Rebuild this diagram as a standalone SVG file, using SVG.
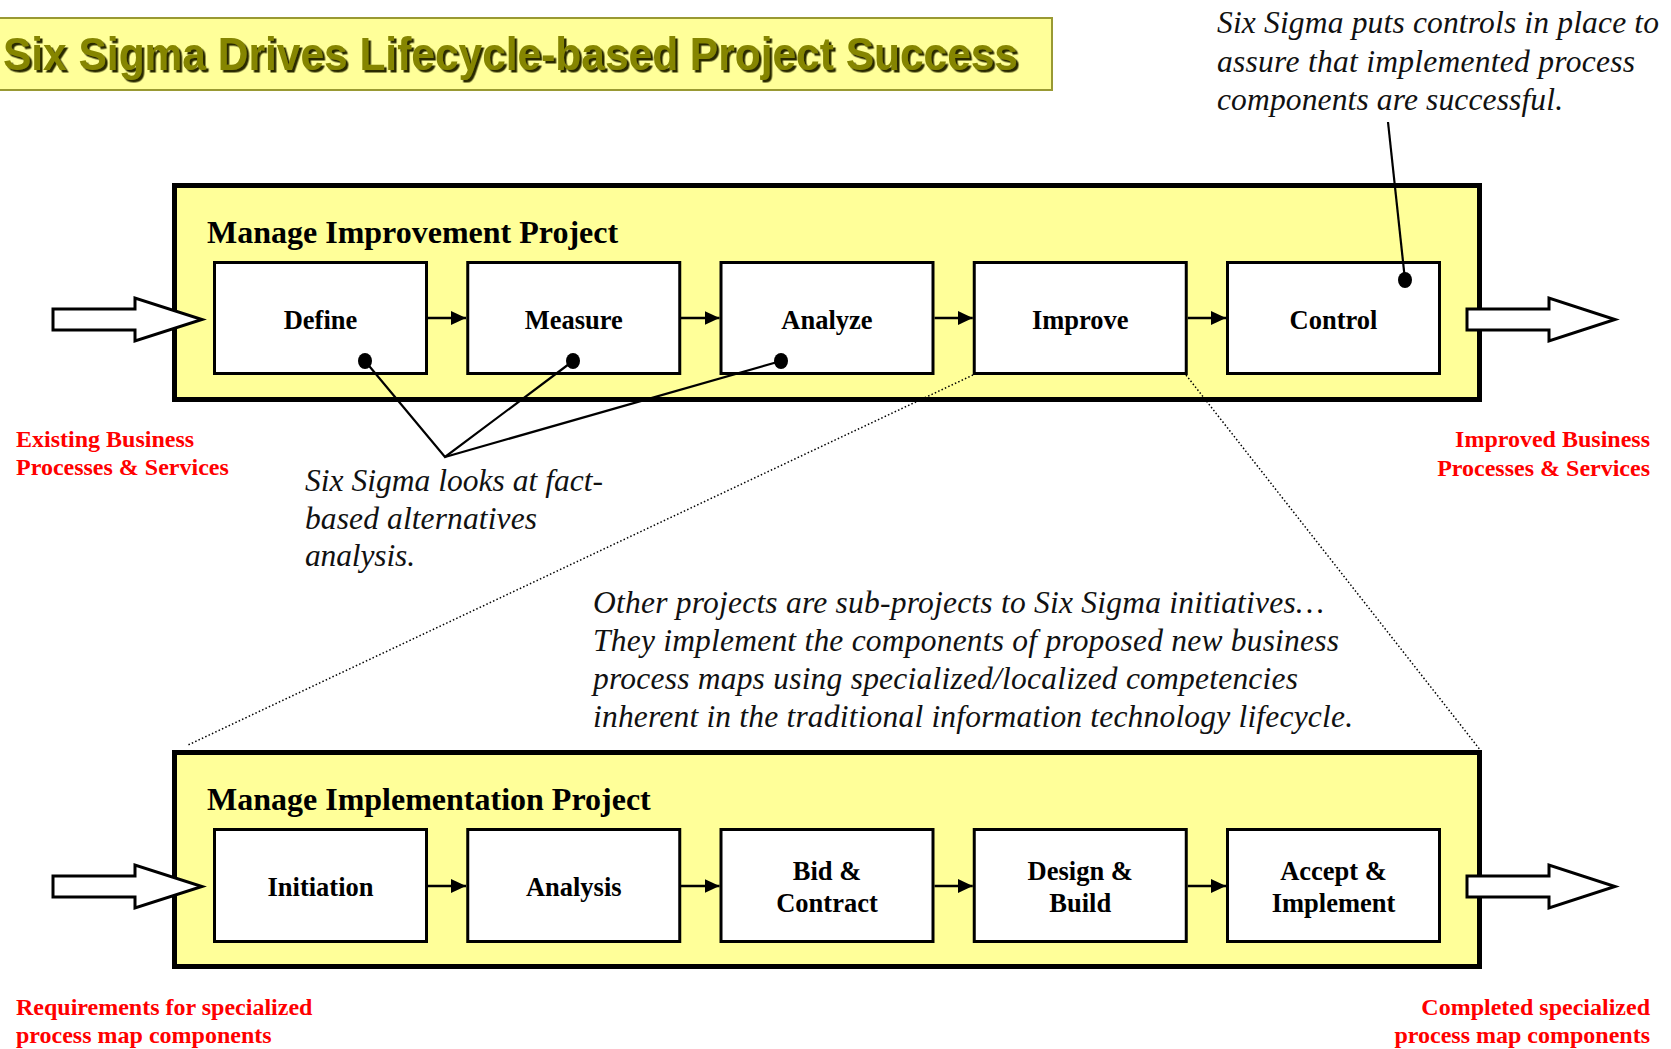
<svg xmlns="http://www.w3.org/2000/svg" width="1671" height="1049" viewBox="0 0 1671 1049">
<style>
.frame{fill:#FFFF99;stroke:#000;stroke-width:5}
.box{fill:#fff;stroke:#000;stroke-width:3}
.lbl{font-family:"Liberation Serif","Times New Roman",serif;font-weight:bold;font-size:26.5px;fill:#000;text-anchor:middle}
.hdr{font-family:"Liberation Serif","Times New Roman",serif;font-weight:bold;font-size:32px;fill:#000}
.red{font-family:"Liberation Serif","Times New Roman",serif;font-weight:bold;font-size:24px;fill:#FF0000}
.note{font-family:"Liberation Serif","Times New Roman",serif;font-style:italic;font-size:31.5px;fill:#111}
.big{fill:#fff;stroke:#000;stroke-width:3;stroke-linejoin:miter}
.flow{stroke:#000;stroke-width:2.5;fill:none}
.lead{stroke:#000;stroke-width:2.2;fill:none}
.dot{stroke:#000;stroke-width:1.5;stroke-dasharray:1.5 2.2;fill:none}
</style>
<defs>
<marker id="ah" markerUnits="userSpaceOnUse" markerWidth="16" markerHeight="14" refX="15" refY="7" orient="auto">
<path d="M0,0 L15,7 L0,14 Z" fill="#000"/>
</marker>
<filter id="sh" x="-5%" y="-20%" width="110%" height="150%">
<feDropShadow dx="2.5" dy="2.5" stdDeviation="0.3" flood-color="#2b2b00" flood-opacity="1"/>
</filter>
</defs>

<g id="title">
<rect x="-2" y="18" width="1054" height="72" fill="#FFFF99" stroke="#999933" stroke-width="2"/>
<text x="3" y="70" font-family="'Liberation Sans',Arial,sans-serif" font-weight="bold" font-size="46" fill="#858500" textLength="1015" lengthAdjust="spacingAndGlyphs" filter="url(#sh)">Six Sigma Drives Lifecycle-based Project Success</text>
</g>

<g id="improvement-project">
<rect class="frame" x="174.5" y="185.5" width="1305" height="214"/>
<text class="hdr" x="207" y="243">Manage Improvement Project</text>
</g>
<g id="define"><rect class="box" x="214.5" y="262.5" width="212" height="111"/><text class="lbl" x="320.5" y="329">Define</text></g>
<g id="measure"><rect class="box" x="467.75" y="262.5" width="212" height="111"/><text class="lbl" x="573.75" y="329">Measure</text></g>
<g id="analyze"><rect class="box" x="721" y="262.5" width="212" height="111"/><text class="lbl" x="827" y="329">Analyze</text></g>
<g id="improve"><rect class="box" x="974.25" y="262.5" width="212" height="111"/><text class="lbl" x="1080.25" y="329">Improve</text></g>
<g id="control"><rect class="box" x="1227.5" y="262.5" width="212" height="111"/><text class="lbl" x="1333.5" y="329">Control</text></g>

<g id="implementation-project">
<rect class="frame" x="174.5" y="752.5" width="1305" height="214"/>
<text class="hdr" x="207" y="810">Manage Implementation Project</text>
</g>
<g id="initiation"><rect class="box" x="214.5" y="829.5" width="212" height="112"/><text class="lbl" x="320.5" y="896">Initiation</text></g>
<g id="analysis"><rect class="box" x="467.75" y="829.5" width="212" height="112"/><text class="lbl" x="573.75" y="896">Analysis</text></g>
<g id="bid-contract"><rect class="box" x="721" y="829.5" width="212" height="112"/><text class="lbl" x="827" y="880">Bid &amp;</text><text class="lbl" x="827" y="912">Contract</text></g>
<g id="design-build"><rect class="box" x="974.25" y="829.5" width="212" height="112"/><text class="lbl" x="1080.25" y="880">Design &amp;</text><text class="lbl" x="1080.25" y="912">Build</text></g>
<g id="accept-implement"><rect class="box" x="1227.5" y="829.5" width="212" height="112"/><text class="lbl" x="1333.5" y="880">Accept &amp;</text><text class="lbl" x="1333.5" y="912">Implement</text></g>

<g id="big-arrows">
<polygon class="big" points="53,309 135,309 135,298 202,319.5 135,341 135,330 53,330"/>
<polygon class="big" points="1467,309 1549,309 1549,298 1615,319.5 1549,341 1549,330 1467,330"/>
<polygon class="big" points="53,876 135,876 135,865 202,886.5 135,908 135,897 53,897"/>
<polygon class="big" points="1467,876 1549,876 1549,865 1615,886.5 1549,908 1549,897 1467,897"/>
</g>

<g id="connectors">
<line class="flow" x1="428" y1="318" x2="466" y2="318" marker-end="url(#ah)"/>
<line class="flow" x1="681" y1="318" x2="719.5" y2="318" marker-end="url(#ah)"/>
<line class="flow" x1="934.5" y1="318" x2="972.75" y2="318" marker-end="url(#ah)"/>
<line class="flow" x1="1187.75" y1="318" x2="1226" y2="318" marker-end="url(#ah)"/>
<line class="flow" x1="428" y1="886" x2="466" y2="886" marker-end="url(#ah)"/>
<line class="flow" x1="681" y1="886" x2="719.5" y2="886" marker-end="url(#ah)"/>
<line class="flow" x1="934.5" y1="886" x2="972.75" y2="886" marker-end="url(#ah)"/>
<line class="flow" x1="1187.75" y1="886" x2="1226" y2="886" marker-end="url(#ah)"/>
<polyline class="lead" points="365,361 445,457 573,361"/>
<line class="lead" x1="445" y1="457" x2="781" y2="361"/>
<line class="lead" x1="1388" y1="122" x2="1405" y2="280"/>
<ellipse cx="365" cy="361" rx="7" ry="8"/>
<ellipse cx="573" cy="361" rx="7" ry="8"/>
<ellipse cx="781" cy="361" rx="7" ry="8"/>
<ellipse cx="1405" cy="280" rx="7" ry="8"/>
<line class="dot" x1="973" y1="375" x2="188" y2="745"/>
<line class="dot" x1="1186" y1="375" x2="1481" y2="751"/>
</g>

<g id="annotations">
<text class="note" x="1217" y="33" textLength="442">Six Sigma puts controls in place to</text>
<text class="note" x="1217" y="72" textLength="418">assure that implemented process</text>
<text class="note" x="1217" y="110" textLength="346">components are successful.</text>
<text class="note" x="305" y="491" textLength="298">Six Sigma looks at fact-</text>
<text class="note" x="305" y="528.5" textLength="232">based alternatives</text>
<text class="note" x="305" y="566" textLength="110">analysis.</text>
<text class="note" x="593" y="613" textLength="731">Other projects are sub-projects to Six Sigma initiatives…</text>
<text class="note" x="593" y="651" textLength="746">They implement the components of proposed new business</text>
<text class="note" x="593" y="689" textLength="705">process maps using specialized/localized competencies</text>
<text class="note" x="593" y="727" textLength="760">inherent in the traditional information technology lifecycle.</text>
<text class="red" x="16" y="447">Existing Business</text>
<text class="red" x="16" y="475">Processes &amp; Services</text>
<text class="red" x="1650" y="447" text-anchor="end">Improved Business</text>
<text class="red" x="1650" y="476" text-anchor="end">Processes &amp; Services</text>
<text class="red" x="16" y="1015">Requirements for specialized</text>
<text class="red" x="16" y="1043">process map components</text>
<text class="red" x="1650" y="1015" text-anchor="end">Completed specialized</text>
<text class="red" x="1650" y="1043" text-anchor="end">process map components</text>
</g>
</svg>
